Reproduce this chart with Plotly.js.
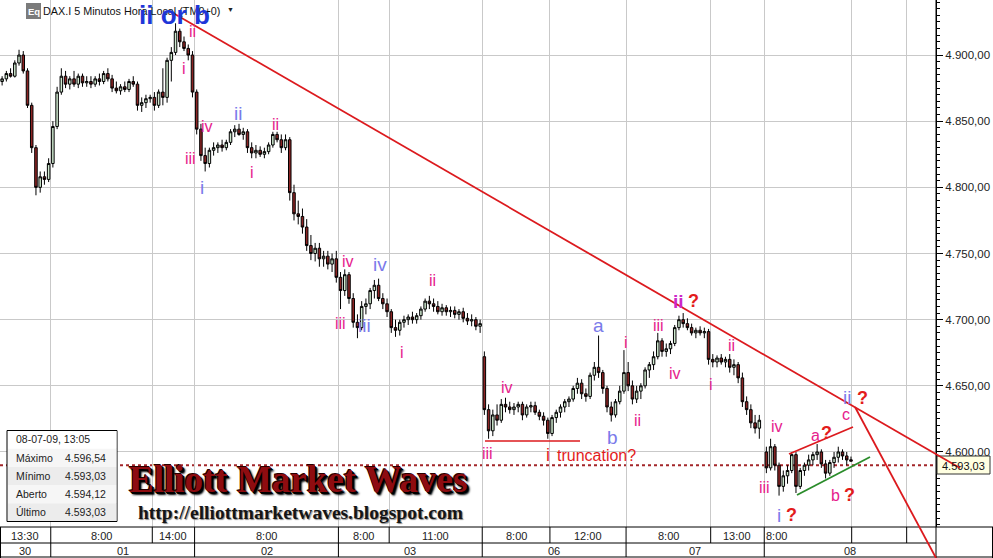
<!DOCTYPE html>
<html><head><meta charset="utf-8">
<script src="https://cdn.plot.ly/plotly-3.0.1.min.js"></script>
<style>html,body{margin:0;padding:0;background:#fff;overflow:hidden}#chart{width:993px;height:558px}</style>
</head><body><div id="chart"></div>
<script>
// ---- sessions (5-minute slots; each full session = 102 slots, 8:00-16:30 local) ----
const sessionDays      = ['30','01','02','03','06','07','08'];
const sessionStartSlot = [0, 36, 138, 240, 342, 444, 542];
const barsPerSession   = [12, 34, 34, 34, 34, 32, 21];   // 15-minute candles

// ---- time-axis table ----
const gridSlots  = [36,108,138,240,276,342,390,444,504,542,604,643];
const timeLabels = ['13:30','8:00','14:00','8:00','8:00','11:00','8:00','12:00','8:00','13:00','8:00','',''];

// ---- price axis ----
const priceTicks = [4600,4650,4700,4750,4800,4850,4900];

// ---- OHLC ----
const opens = [
 4880,4882,4886,4884,4894,4900,4888,4862,4830,4800,4808,4806,
 4818,4846,4872,4884,4878,4882,4878,4884,4879,4880,4878,4882,4880,4886,4882,4875,4873,4876,4874,4880,4878,4862,4864,4867,4868,4862,4872,4868,4896,4902,4918,4910,4905,4900,
 4872,4844,4824,4818,4828,4830,4832,4830,4834,4842,4844,4840,4842,4830,4826,4828,4825,4827,4832,4840,4836,4830,4836,4796,4780,4778,4770,4756,4750,4754,4746,4748,4742,4746,
 4732,4722,4734,4716,4698,4694,4710,4712,4722,4726,4716,4712,4706,4694,4692,4698,4700,4702,4700,4703,4708,4714,4712,4710,4706,4709,4706,4707,4704,4706,4701,4699,4700,4695,
 4672,4632,4616,4628,4624,4636,4634,4632,4634,4636,4628,4634,4635,4630,4627,4624,4614,4626,4630,4634,4638,4640,4648,4652,4644,4642,4658,4664,4660,4648,4634,4628,4638,4646,
 4660,4650,4640,4646,4650,4662,4666,4672,4684,4676,4678,4682,4694,4700,4697,4694,4690,4692,4690,4691,4670,4668,4671,4668,4670,4664,4666,4656,4638,4632,4622,4618,
 4600,4588,4604,4590,4574,4582,4586,4598,4574,4586,4590,4594,4598,4600,4591,4584,4592,4596,4600,4597,4594.12];
const highs = [
 4884,4888,4890,4896,4904,4903,4890,4864,4832,4812,4812,4822,
 4850,4876,4890,4888,4884,4888,4886,4886,4884,4884,4884,4886,4888,4890,4885,4880,4878,4880,4882,4884,4880,4868,4870,4870,4872,4874,4890,4898,4906,4924,4920,4914,4908,4903,
 4874,4848,4830,4830,4834,4834,4836,4836,4844,4847,4848,4845,4844,4834,4832,4831,4830,4834,4842,4842,4840,4840,4838,4802,4790,4784,4776,4764,4758,4758,4752,4752,4750,4752,
 4736,4738,4736,4720,4704,4714,4716,4724,4730,4731,4720,4716,4708,4700,4700,4703,4704,4706,4705,4710,4716,4718,4716,4714,4712,4711,4710,4710,4708,4709,4705,4704,4702,4700,
 4676,4636,4632,4636,4640,4641,4638,4637,4638,4638,4636,4638,4638,4632,4630,4626,4628,4632,4636,4640,4642,4650,4656,4655,4648,4660,4668,4688,4662,4650,4638,4640,4650,4677,
 4668,4654,4650,4652,4664,4668,4676,4690,4686,4682,4684,4696,4703,4705,4701,4697,4694,4695,4694,4693,4674,4673,4674,4672,4674,4670,4668,4660,4642,4636,4628,4628,
 4604,4610,4606,4592,4586,4590,4600,4600,4588,4592,4598,4600,4606,4602,4594,4594,4600,4604,4602,4600,4596.54];
const lows = [
 4877,4880,4883,4883,4892,4886,4860,4826,4794,4796,4802,4804,
 4815,4844,4870,4875,4874,4876,4875,4876,4876,4875,4876,4877,4878,4880,4872,4871,4870,4872,4872,4876,4858,4857,4860,4864,4858,4860,4862,4864,4880,4900,4906,4903,4896,4868,
 4840,4820,4812,4815,4824,4826,4827,4828,4832,4838,4839,4836,4826,4822,4822,4823,4822,4825,4830,4834,4826,4828,4790,4775,4772,4765,4752,4745,4744,4740,4740,4738,4736,4728,
 4708,4718,4712,4694,4686,4692,4704,4708,4716,4714,4708,4702,4690,4687,4688,4694,4696,4697,4697,4700,4706,4708,4706,4704,4703,4703,4702,4701,4700,4698,4696,4695,4692,4690,
 4628,4610,4612,4620,4622,4630,4629,4628,4630,4624,4626,4630,4628,4624,4620,4610,4612,4622,4626,4630,4634,4638,4644,4640,4638,4640,4654,4656,4644,4630,4623,4626,4636,4644,
 4646,4636,4637,4640,4648,4656,4662,4670,4672,4672,4674,4680,4692,4694,4692,4688,4686,4688,4686,4666,4664,4664,4666,4664,4660,4658,4652,4634,4628,4618,4614,4610,
 4584,4586,4586,4567,4570,4576,4584,4569,4572,4582,4586,4590,4594,4588,4580,4582,4588,4592,4594,4590,4593.03];
const closes = [
 4882,4886,4884,4894,4900,4888,4862,4830,4800,4808,4806,4818,
 4846,4872,4884,4878,4882,4878,4884,4879,4880,4878,4882,4880,4886,4882,4875,4873,4876,4874,4880,4878,4862,4864,4867,4868,4862,4872,4868,4896,4902,4918,4910,4905,4900,4872,
 4844,4824,4818,4828,4830,4832,4830,4834,4842,4844,4840,4842,4830,4826,4828,4825,4827,4832,4840,4836,4830,4836,4796,4780,4778,4770,4756,4750,4754,4746,4748,4742,4746,4732,
 4722,4734,4716,4698,4694,4710,4712,4722,4726,4716,4712,4706,4694,4692,4698,4700,4702,4700,4703,4708,4714,4712,4710,4706,4709,4706,4707,4704,4706,4701,4699,4700,4695,4697,
 4632,4616,4628,4624,4636,4634,4632,4634,4636,4628,4634,4635,4630,4627,4624,4614,4626,4630,4634,4638,4640,4648,4652,4644,4642,4658,4664,4660,4648,4634,4628,4638,4646,4660,
 4650,4640,4646,4650,4662,4666,4672,4684,4676,4678,4682,4694,4700,4697,4694,4690,4692,4690,4691,4670,4668,4671,4668,4670,4664,4666,4656,4638,4632,4622,4618,4624,
 4588,4604,4590,4574,4582,4586,4598,4574,4586,4590,4594,4598,4600,4591,4584,4592,4596,4600,4597,4594,4593.03];

const lastBar = {date:'08-07-09, 13:05', max:4596.54, min:4593.03, open:4594.12, last:4593.03};

// ---------------------------------------------------------------
const xMax = 663.8, yLo = 4543.3, yHi = 4941.6;
const PW = 936, PH = 527;
const fmt = v => { const p = v.toFixed(2).split('.'); return p[0].replace(/\B(?=(\d{3})+(?!\d))/g,'.') + ',' + p[1]; };
const X = px => px / PW;             // pixel -> paper
const Y = py => (PH - py) / PH;
const sx = s => s / xMax;            // slot -> paper

const xs = [];
sessionStartSlot.forEach((s, i) => { for (let k = 0; k < barsPerSession[i]; k++) xs.push(s + 1.5 + 3 * k); });

const trace = {
  type: 'candlestick', x: xs, open: opens, high: highs, low: lows, close: closes,
  increasing: {line: {color: '#000', width: 1}, fillcolor: '#cfe9cf'},
  decreasing: {line: {color: '#000', width: 1}, fillcolor: '#8c2424'},
  whiskerwidth: 0, hoverinfo: 'skip', showlegend: false
};

const shapes = [];
const annotations = [];
const F = 'Liberation Sans, Arial, sans-serif';
const SERIF = 'Liberation Serif, Times New Roman, serif';
const line = (x0,y0,x1,y1,color,w,dash) => shapes.push({type:'line',xref:'paper',yref:'paper',x0:X(x0),y0:Y(y0),x1:X(x1),y1:Y(y1),line:{color,width:w,dash:dash||'solid'},layer:'above'});
const rect = (x0,y0,x1,y1,fill,lc,lw) => shapes.push({type:'rect',xref:'paper',yref:'paper',x0:X(x0),y0:Y(y0),x1:X(x1),y1:Y(y1),fillcolor:fill,line:{color:lc||fill,width:lw===undefined?0:lw},layer:'above'});
const txt = (t,px,py,o) => annotations.push(Object.assign({text:t,xref:'paper',yref:'paper',x:X(px),y:Y(py),xanchor:'center',yanchor:'middle',showarrow:false,borderpad:0,font:{family:F,size:11,color:'#222'}}, o||{}));

// last-price dotted line
shapes.push({type:'line',xref:'paper',yref:'y',x0:0,x1:1,y0:4590,y1:4590,line:{color:'#a3262a',width:2,dash:'dot'},layer:'between'});

// time table
const rowTop = 527, rowMid = 543, rowBot = 557;
rect(0, rowTop, 993, 558, '#ffffff');
line(0, rowTop, 993, rowTop, '#000', 1);
line(0, rowMid, PW, rowMid, '#000', 1);
line(0, rowBot, 993, rowBot, '#000', 1);
line(PW, 0, PW, 558, '#000', 1);
line(992.5, rowTop, 992.5, 558, '#000', 1);
line(0.5, rowTop, 0.5, 558, '#000', 1);
const row1 = [0, ...gridSlots, xMax];
for (let i = 0; i < timeLabels.length; i++) {
  const a = sx(row1[i]) * PW, b = sx(row1[i+1]) * PW;
  if (i > 0) line(a, rowTop, a, rowMid, '#000', 1);
  if (timeLabels[i]) {
    const leftAlign = (i === timeLabels.length - 3);
    txt(timeLabels[i], leftAlign ? a + 1 : (a + b) / 2, 535.5, {xanchor: leftAlign ? 'left' : 'center', font:{family:F,size:11,color:'#222'}});
  }
}
const row2 = [...sessionStartSlot, xMax];
for (let i = 0; i < sessionDays.length; i++) {
  const a = sx(row2[i]) * PW, b = sx(row2[i+1]) * PW;
  if (i > 0) line(a, rowMid, a, rowBot, '#000', 1);
  txt(sessionDays[i], (a + b) / 2, 550.5, {font:{family:F,size:11,color:'#222'}});
}

// analysis lines
rect(937, 456, 990, 474, '#ffffe1', '#333', 1);
line(173, 13, 960, 468, '#dc1a1e', 1.8);
line(855, 407, 936, 558, '#dc1a1e', 1.8);
line(789, 454, 853, 427, '#dc1a1e', 1.8);
line(797, 495, 870, 457, '#2a8c2a', 1.8);
line(485, 441, 580, 441, '#dc1a1e', 1.5);
txt(fmt(lastBar.last), 963.5, 465.5, {font:{family:F,size:11,color:'#111'}});

// header
rect(26, 3, 41, 19, '#7b7b7b');
txt('Eq', 33.5, 11.5, {font:{family:F,size:9.5,color:'#fff',weight:'bold'}});
txt('DAX.I 5 Minutos Hora Local (TM0+0)', 42, 11, {xanchor:'left', font:{family:F,size:10.8,color:'#111'}});
txt('▼', 230, 10, {font:{family:F,size:7,color:'#222'}});

// info box
const rowsY = [430.5, 448.7, 466.9, 485.1, 503.3, 521.5];
const rowBg = ['#ffffff','#f6f6f6','#ececec','#f6f6f6','#ececec'];
rect(7, 430.5, 117, 521.5, '#ffffff', '#000', 1);
for (let i = 0; i < 5; i++) rect(8, rowsY[i] + (i ? 0 : 0.5), 116.5, rowsY[i+1] - (i === 4 ? 0.5 : 0), rowBg[i]);
txt(lastBar.date, 15, 439, {xanchor:'left', font:{family:F,size:10.5,color:'#222'}});
const infoNames = ['Máximo','Mínimo','Aberto','Último'];
const infoVals = [lastBar.max, lastBar.min, lastBar.open, lastBar.last];
infoNames.forEach((n, i) => {
  const cy = (rowsY[i+1] + rowsY[i+2]) / 2;
  txt(n, 15, cy, {xanchor:'left', font:{family:F,size:10.5,color:'#222'}});
  txt(fmt(infoVals[i]), 107, cy, {xanchor:'right', font:{family:F,size:10.5,color:'#222'}});
});

// watermark
txt('Elliott Market Waves', 298, 479, {font:{family:SERIF,size:37,weight:'bold',color:'#8e0c10',shadow:'1px 1px 0 #000, 2px 2px 0 #000, 3px 3px 2px #000, -1px -1px 0 #2a0000'}});
txt('http://elliottmarketwaves.blogspot.com', 300, 512, {font:{family:SERIF,size:19.5,weight:'bold',color:'#151515',shadow:'1px 1px 1px #888'}});

// Elliott wave labels
const PINK = '#e6208c', BLUE = '#7a7aea', RED = '#e31c1c', MAG = '#cc28c8';
const pk = (t,x,y) => txt(t,x,y,{font:{family:F,size:16,color:PINK}});
const bl = (t,x,y) => txt(t,x,y,{font:{family:F,size:19,color:BLUE}});
const q  = (x,y) => txt('?',x,y,{font:{family:F,size:18,weight:'bold',color:RED}});
txt('ii or b', 174, 15, {font:{family:F,size:26,weight:'bold',color:'#1e36d8'}});
pk('ii',192,32); pk('i',184,68); pk('iv',207,127); pk('iii',190,158);
bl('i',202,188); bl('ii',238,113);
pk('ii',275,124); pk('i',252,172);
pk('iv',348,261); bl('iv',380,264); pk('iii',340,323); bl('iii',364,325);
pk('i',402,352); pk('ii',432,280);
pk('iv',507,387); pk('iii',487,453);
txt('i',548,455,{font:{family:F,size:18,color:RED}});
txt('truncation?',556,455,{xanchor:'left',font:{family:F,size:16,color:RED}});
bl('a',598,325); bl('b',612,437);
pk('i',626,342); pk('ii',637,420); pk('iii',658,325); pk('iv',675,373);
txt('ii',678,301,{font:{family:F,size:19,weight:'bold',color:MAG}}); q(693,301);
pk('i',711,385); pk('ii',731,345);
pk('iv',777,426); pk('iii',764,487);
bl('i',779,515); q(791,515);
pk('a',815,435); q(826,433);
pk('b',835,495); q(849,495);
pk('c',846,414);
bl('ii',847,397); q(862,398);

const layout = {
  width: 993, height: 558,
  margin: {l: 0, r: 993 - PW, t: 0, b: 558 - PH, pad: 0},
  paper_bgcolor: '#ffffff', plot_bgcolor: '#ffffff', showlegend: false,
  boxgap: 0.15,
  xaxis: {range: [0, xMax], tickmode: 'array', tickvals: gridSlots, showticklabels: false, ticks: '',
          showgrid: true, gridcolor: '#c9c9c9', gridwidth: 1, zeroline: false, showline: false,
          rangeslider: {visible: false}, fixedrange: true},
  yaxis: {side: 'right', range: [yLo, yHi], tickmode: 'array', tickvals: priceTicks, ticktext: priceTicks.map(fmt),
          showgrid: true, gridcolor: '#c9c9c9', gridwidth: 1, zeroline: false, showline: true, linecolor: '#000', linewidth: 1,
          ticks: 'outside', ticklen: 6, tickcolor: '#000', tickfont: {family: F, size: 11.5, color: '#222'},
          minor: {tickmode: 'linear', tick0: 0, dtick: 5, ticks: 'outside', ticklen: 3, tickcolor: '#000', showgrid: false},
          fixedrange: true},
  shapes, annotations
};
Plotly.newPlot('chart', [trace], layout, {staticPlot: true, displayModeBar: false});
</script></body></html>
